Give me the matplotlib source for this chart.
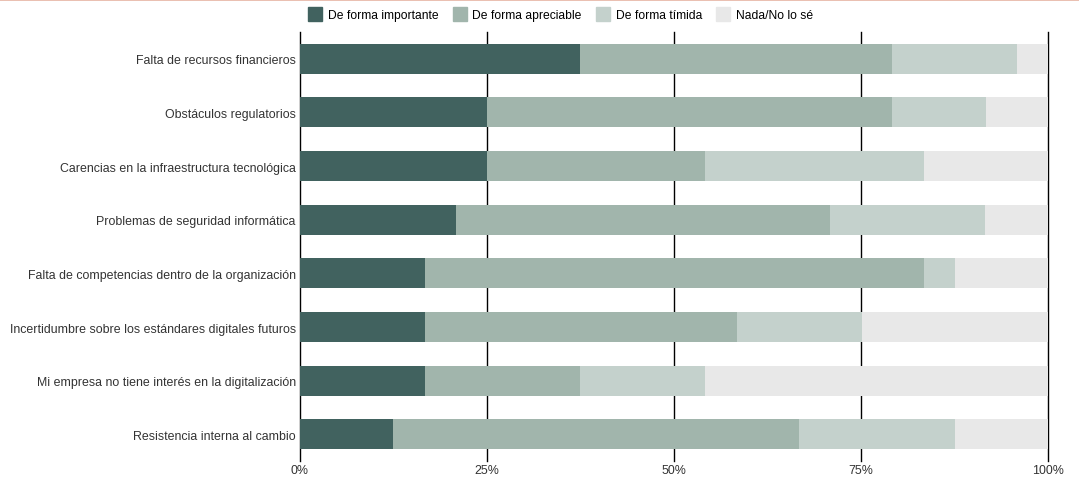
import matplotlib.pyplot as plt
import numpy as np
from matplotlib.lines import Line2D

plt.rcParams['font.family'] = ['Liberation Sans', 'DejaVu Sans']

categorias = [
    "Falta de recursos financieros",
    "Obstáculos regulatorios",
    "Carencias en la infraestructura tecnológica",
    "Problemas de seguridad informática",
    "Falta de competencias dentro de la organización",
    "Incertidumbre sobre los estándares digitales futuros",
    "Mi empresa no tiene interés en la digitalización",
    "Resistencia interna al cambio",
]

series = ["De forma importante", "De forma apreciable", "De forma tímida", "Nada/No lo sé"]

importante = [37.5, 25.0, 25.0, 20.8, 16.7, 16.7, 16.7, 12.5]
apreciable = [41.7, 54.2, 29.2, 50.0, 66.7, 41.7, 20.8, 54.2]
timida = [16.7, 12.5, 29.2, 20.8, 4.2, 16.7, 16.7, 20.8]
nada = [4.1, 8.3, 16.6, 8.4, 12.4, 24.9, 45.8, 12.5]

colores = ["#41625f", "#a1b5ac", "#c4d1cc", "#e8e8e8"]
ticks_x = [0, 25, 50, 75, 100]
ticks_lbl = ["0%", "25%", "50%", "75%", "100%"]

fig = plt.figure(figsize=(10.79, 4.85), dpi=100)
ax = fig.add_axes([0.278, 0.047, 0.6933, 0.885])

y = np.arange(len(categorias))
left = np.zeros(len(categorias))
for vals, col in zip([importante, apreciable, timida, nada], colores):
    ax.barh(y, vals, left=left, height=0.56, color=col, zorder=2)
    left += np.array(vals)

ax.set_ylim(len(categorias) - 0.5, -0.5)
ax.set_xlim(0, 100)
ax.set_xticks(ticks_x)
ax.set_xticklabels(ticks_lbl)
ax.set_yticks(y)
ax.set_yticklabels(categorias)
ax.tick_params(length=0, labelsize=8.9, colors="#333333")
ax.tick_params(axis="x", pad=2)
ax.tick_params(axis="y", pad=3)
for s in ax.spines.values():
    s.set_visible(False)

# lignes verticales derrière les barres
for t in ticks_x:
    ax.axvline(t, color="black", linewidth=1, zorder=0, clip_on=False)

handles = [Line2D([], [], marker="s", linestyle="", markersize=10.5, markerfacecolor=c,
                  markeredgecolor=c) for c in colores]
fig.legend(handles, series, loc="center", bbox_to_anchor=(0.5195, 0.967), ncol=4,
           frameon=False, fontsize=8.7, handletextpad=0.45, columnspacing=1.15,
           handlelength=1.2, borderpad=0.2)

fig.add_artist(Line2D([0, 1], [0.999, 0.999], color="#e8b9a9", linewidth=2,
                      transform=fig.transFigure))

fig.savefig("out.png", dpi=100)
